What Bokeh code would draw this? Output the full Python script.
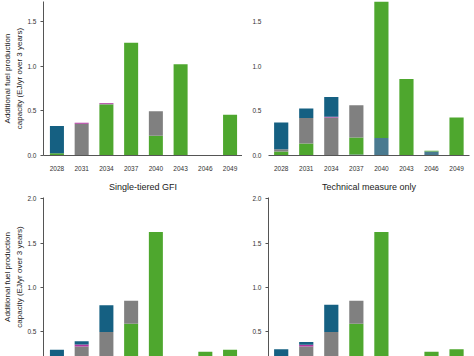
from bokeh.plotting import figure
from bokeh.layouts import column, row
from bokeh.models import Range1d, FixedTicker, Title, ColumnDataSource
from bokeh.embed import file_html
from bokeh.resources import INLINE

years = [2028, 2031, 2034, 2037, 2040, 2043, 2046, 2049]
year_labels = [str(y) for y in years]
stack_order = ["steel", "green", "gray", "pink", "blue"]
colors = {"steel": "#4a7a90", "green": "#4ea72e", "gray": "#808080",
          "pink": "#b0359f", "blue": "#156082"}

# Top-left panel (title cut off)
tl_steel = [0, 0, 0, 0, 0, 0, 0, 0]
tl_green = [0.025, 0, 0.57, 1.26, 0.22, 1.02, 0, 0.455]
tl_gray = [0, 0.355, 0.008, 0, 0.275, 0, 0, 0]
tl_pink = [0, 0.012, 0.008, 0, 0, 0, 0, 0]
tl_blue = [0.305, 0, 0, 0, 0, 0, 0, 0]

# Top-right panel (title cut off)
tr_steel = [0, 0, 0, 0.01, 0.195, 0, 0.045, 0]
tr_green = [0.045, 0.134, 0, 0.19, 1.76, 0.855, 0.008, 0.425]
tr_gray = [0.025, 0.286, 0.425, 0.363, 0, 0, 0, 0]
tr_pink = [0, 0, 0.008, 0, 0, 0, 0, 0]
tr_blue = [0.30, 0.105, 0.222, 0, 0, 0, 0, 0]

# Bottom-left panel: Single-tiered GFI
bl_title = "Single-tiered GFI"
bl_steel = [0, 0, 0, 0, 0, 0, 0, 0]
bl_green = [0, 0, 0, 0.593, 1.625, 0, 0.278, 0.30]
bl_gray = [0, 0.336, 0.50, 0.257, 0, 0, 0, 0]
bl_pink = [0, 0.022, 0, 0, 0, 0, 0, 0]
bl_blue = [0.30, 0.037, 0.30, 0, 0, 0, 0, 0]

# Bottom-right panel: Technical measure only
br_title = "Technical measure only"
br_steel = [0, 0, 0, 0, 0, 0, 0, 0]
br_green = [0, 0, 0, 0.593, 1.625, 0, 0.276, 0.305]
br_gray = [0, 0.336, 0.50, 0.257, 0, 0, 0, 0]
br_pink = [0, 0.02, 0, 0, 0, 0, 0, 0]
br_blue = [0.305, 0.032, 0.305, 0, 0, 0, 0, 0]

y_label_1 = "Additional fuel production"
y_label_2 = "capacity (EJ/yr over 3 years)"
y_ticks = [0.0, 0.5, 1.0, 1.5, 2.0]

FONT = "Liberation Sans"
PX_PER_UNIT = 89.4


def make_panel(vals, width, height, left, right, top, bottom, x_start, px_per_year,
               y_start, show_x, show_yline, title=None, title_offset=0,
               ylab=False, ylab_offset=0):
    frame_w = width - left - right
    frame_h = height - top - bottom
    x_end = x_start + frame_w / px_per_year
    y_end = y_start + frame_h / PX_PER_UNIT
    p = figure(width=width, height=height, output_backend="svg", toolbar_location=None,
               x_range=Range1d(x_start, x_end), y_range=Range1d(y_start, y_end),
               min_border_left=left, min_border_right=right,
               min_border_top=top, min_border_bottom=bottom)
    p.outline_line_color = None
    p.grid.visible = False
    p.background_fill_color = "white"
    p.border_fill_color = "white"

    # stacked segments, drawn only where a series has a value
    base = [0.0] * len(years)
    for name, v in zip(stack_order, vals):
        xs, bots, tops = [], [], []
        for i, val in enumerate(v):
            if val > 0:
                xs.append(years[i])
                bots.append(base[i])
                tops.append(base[i] + val)
                base[i] += val
        if xs:
            src = ColumnDataSource(dict(x=xs, bottom=bots, top=tops))
            p.vbar(x="x", bottom="bottom", top="top", width=1.7, source=src,
                   fill_color=colors[name], line_color=None)

    p.xaxis.ticker = FixedTicker(ticks=years)
    p.xaxis.major_label_overrides = {y: l for y, l in zip(years, year_labels)}
    p.xaxis.major_tick_line_color = None
    p.xaxis.minor_tick_line_color = None
    p.xaxis.axis_line_color = "#555555"
    p.xaxis.major_label_text_font = FONT
    p.xaxis.major_label_text_font_size = "6.5px"
    p.xaxis.major_label_text_color = "#333333"
    p.xaxis.major_label_standoff = 4
    p.xaxis.visible = show_x

    p.yaxis.ticker = FixedTicker(ticks=y_ticks)
    p.yaxis.major_label_overrides = {t: f"{t:.1f}" for t in y_ticks}
    p.yaxis.minor_tick_line_color = None
    p.yaxis.major_tick_in = 0
    p.yaxis.major_tick_out = 3
    p.yaxis.major_label_text_font = FONT
    p.yaxis.major_label_text_font_size = "6.5px"
    p.yaxis.major_label_text_color = "#333333"
    p.yaxis.major_label_standoff = 4
    if show_yline:
        p.yaxis.axis_line_color = "#555555"
        p.yaxis.major_tick_line_color = "#555555"
    else:
        p.yaxis.axis_line_color = None
        p.yaxis.major_tick_line_color = None

    if ylab:
        for txt in (y_label_2, y_label_1):
            t = Title(text=txt, align="center", offset=ylab_offset, standoff=1,
                      text_font=FONT, text_font_size="8px", text_font_style="normal",
                      text_color="#222222")
            p.add_layout(t, "left")
    if title:
        p.title = Title(text=title, align="center", offset=title_offset, standoff=7,
                        vertical_align="top",
                        text_font=FONT, text_font_size="9px", text_font_style="normal",
                        text_color="#222222")
    return p


p_tl = make_panel([tl_steel, tl_green, tl_gray, tl_pink, tl_blue], 242, 178, 42, 0, 1, 23,
                  2028 - 13.5 / 8.286, 8.286, 0.0, True, True, ylab=True, ylab_offset=14)
p_tr = make_panel([tr_steel, tr_green, tr_gray, tr_pink, tr_blue], 232, 178, 26, 5, 1, 23,
                  2028 - 12.7 / 8.35, 8.35, 0.0, True, False)
p_bl = make_panel([bl_steel, bl_green, bl_gray, bl_pink, bl_blue], 242, 178, 42, 0, 18, 0,
                  2028 - 13.5 / 8.286, 8.286, 20 / PX_PER_UNIT, False, True,
                  title=bl_title, title_offset=4.7, ylab=True, ylab_offset=-10)
p_br = make_panel([br_steel, br_green, br_gray, br_pink, br_blue], 232, 178, 26, 5, 18, 0,
                  2028 - 12.7 / 8.35, 8.35, 20 / PX_PER_UNIT, False, True,
                  title=br_title, title_offset=4.5)

layout = column(row(p_tl, p_tr, spacing=0), row(p_bl, p_br, spacing=0), spacing=0)
open("out.html", "w").write(file_html(layout, INLINE))
